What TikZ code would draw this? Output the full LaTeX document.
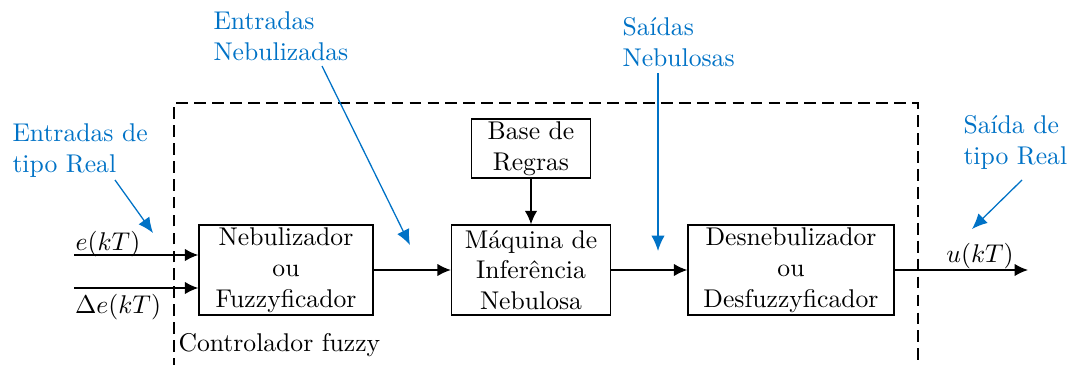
\documentclass[tikz,border=0pt]{standalone}
\usetikzlibrary{arrows.meta}
\definecolor{anno}{RGB}{0,114,198}
\begin{document}
\begin{tikzpicture}[x=0.39pt,y=-0.39pt,
  blk/.style={draw,line width=0.55pt,align=center,inner sep=0pt,minimum height=90*0.39pt},
  sig/.style={line width=0.55pt,-{Latex[length=5.2pt,width=4.8pt]}},
  annotxt/.style={text=anno,align=left,anchor=north west,inner sep=0pt},
  annoarr/.style={draw=anno,line width=0.5pt,-{Latex[length=6pt,width=5.2pt]},anno},
  frame/.style={line width=0.55pt,dash pattern=on 4.6pt off 2.4pt}]
\useasboundingbox (0,0) rectangle (1070,364);
% dashed controller frame
\draw[frame] (174,370) -- (174,103) -- (918,103) -- (918,370);
\node[anchor=south west,inner sep=0pt] (ctl) at (178,357) {Controlador fuzzy};
% blocks
\node[blk,minimum width=174*0.39pt] (neb) at (286,270) {Nebulizador\\ou\\Fuzzyficador};
\node[blk,minimum width=159*0.39pt] (maq) at (531,270) {Máquina de\\Inferência\\Nebulosa};
\node[blk,minimum width=206*0.39pt] (des) at (791,270) {Desnebulizador\\ou\\Desfuzzyficador};
\node[blk,minimum width=119*0.39pt,minimum height=59*0.39pt] (base) at (531,148.5) {Base de\\Regras};
% inputs/outputs
\coordinate (in1) at (74,255);
\coordinate (in2) at (74,288);
\coordinate (out) at (1028,270);
\draw[sig] (in1) -- (in1 -| neb.west);
\draw[sig] (in2) -- (in2 -| neb.west);
\node[anchor=base,inner sep=0pt] (le) at (108,250) {$e(kT)$};
\node[anchor=base,inner sep=0pt] (lde) at (118,313) {$\Delta e(kT)$};
\draw[sig] (neb.east) -- (maq.west);
\draw[sig] (maq.east) -- (des.west);
\draw[sig] (des.east) -- (out);
\draw[sig] (base.south) -- (maq.north);
\node[anchor=base,inner sep=0pt] (lu) at (980,262) {$u(kT)$};
% annotations
\node[annotxt] (a1) at (12,123) {Entradas de\\tipo Real};
\node[annotxt] (a2) at (213,11) {Entradas\\Nebulizadas};
\node[annotxt] (a3) at (622,17) {Saídas\\Nebulosas};
\node[annotxt] (a4) at (963,115) {Saída de\\tipo Real};
\coordinate (a1s) at (115,180); \coordinate (a1e) at (153,233);
\coordinate (a2s) at (322,66);  \coordinate (a2e) at (410,245);
\coordinate (a3s) at (658,73);  \coordinate (a3e) at (658,251);
\coordinate (a4s) at (1022,180); \coordinate (a4e) at (972,229);
\draw[annoarr] (a1s) -- (a1e);
\draw[annoarr] (a2s) -- (a2e);
\draw[annoarr] (a3s) -- (a3e);
\draw[annoarr] (a4s) -- (a4e);
\end{tikzpicture}
\end{document}
